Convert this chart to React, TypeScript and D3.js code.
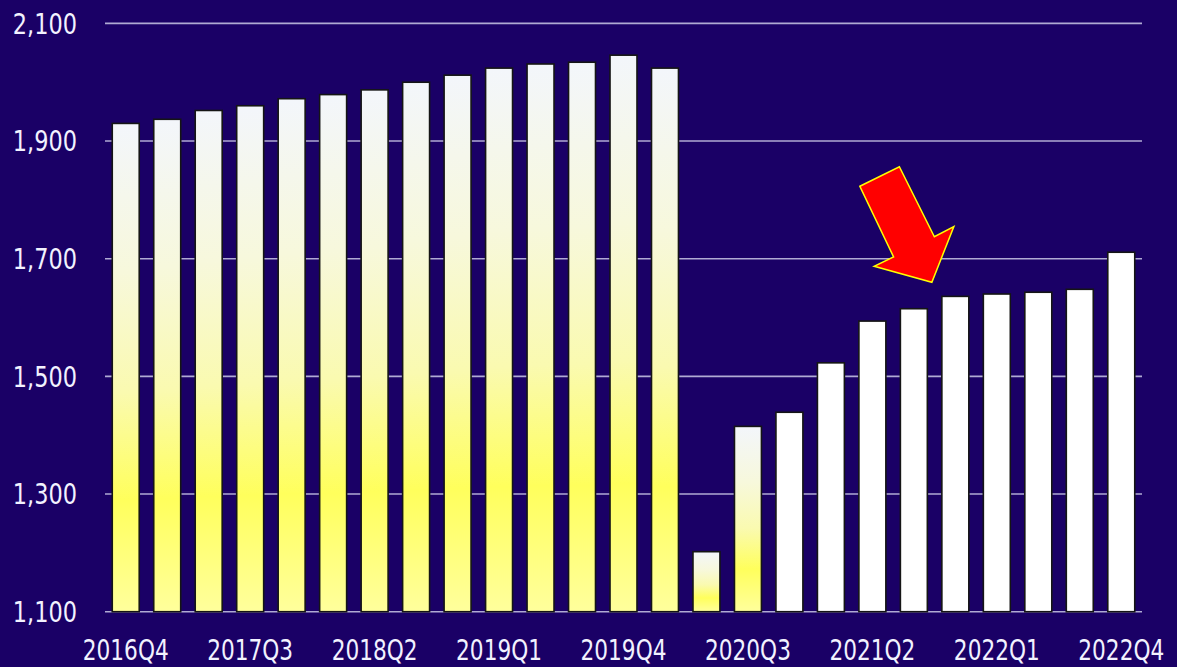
import React from "react";
import * as d3 from "d3";

const categories = [
  "2016Q4", "2017Q1", "2017Q2", "2017Q3", "2017Q4",
  "2018Q1", "2018Q2", "2018Q3", "2018Q4",
  "2019Q1", "2019Q2", "2019Q3", "2019Q4",
  "2020Q1", "2020Q2", "2020Q3", "2020Q4",
  "2021Q1", "2021Q2", "2021Q3", "2021Q4",
  "2022Q1", "2022Q2", "2022Q3", "2022Q4",
];
const values = [
  1930, 1937, 1952, 1960, 1972,
  1979, 1987, 2000, 2012,
  2024, 2031, 2034, 2046,
  2024, 1202, 1415, 1439,
  1523, 1594, 1615, 1636,
  1640, 1643, 1648, 1711,
];
// bars drawn with the yellow gradient (actual) vs white (forecast)
const gradientUntil = "2020Q3";
const yTicks = [1100, 1300, 1500, 1700, 1900, 2100];
const xTickLabels = ["2016Q4", "2017Q3", "2018Q2", "2019Q1", "2019Q4", "2020Q3", "2021Q2", "2022Q1", "2022Q4"];
const arrowTarget = { category: "2021Q4", value: 1660 };

const W = 1177;
const H = 667;
const BG = "#1a0066";
const FONT = "'Liberation Sans Narrow', 'DejaVu Sans Condensed', 'Arial Narrow', sans-serif";
const SX = 0.86;

export default function App() {
  const x = d3.scaleBand<string>().domain(categories).range([105, 1142]).paddingInner(0.35).paddingOuter(0.175);
  const y = d3.scaleLinear().domain([1100, 2100]).range([611.7, 23.4]);
  const gradIdx = categories.indexOf(gradientUntil);

  const tipX = (x(arrowTarget.category) as number) - 10;
  const tipY = y(arrowTarget.value);
  const arrowOffsets: [number, number][] = [
    [-72, -96], [-32.5, -115.5], [2.5, -45.5], [22, -55.7], [0, 0], [-57.7, -16], [-38.3, -25.4],
  ];
  const arrowPts = arrowOffsets.map(([dx, dy]) => `${tipX + dx},${tipY + dy}`).join(" ");

  return (
    <svg width={W} height={H} style={{ position: "absolute", left: 0, top: 0, display: "block" }}>
      <defs>
        <linearGradient id="yellowGrad" x1="0" y1="0" x2="0" y2="1">
          <stop offset="0" stopColor="#f3f6fb" />
          <stop offset="0.3" stopColor="#f7f8dc" />
          <stop offset="0.55" stopColor="#fafab0" />
          <stop offset="0.77" stopColor="#ffff5c" />
          <stop offset="1" stopColor="#ffff9c" />
        </linearGradient>
      </defs>
      <rect x={0} y={0} width={W} height={H} fill={BG} />
      {yTicks.map((t) => (
        <g key={t}>
          <line x1={105} x2={1142} y1={y(t)} y2={y(t)} stroke="#b0aad4" strokeWidth={1.6} />
          <text
            transform={`translate(77,${y(t)}) scale(${SX},1)`}
            textAnchor="end"
            dominantBaseline="central"
            fill="#f2f2ff"
            fontFamily={FONT}
            fontSize={29}
          >
            {d3.format(",")(t)}
          </text>
        </g>
      ))}
      {categories.map((c, i) => {
        const x0 = x(c) as number;
        const v = values[i];
        return (
          <rect
            key={c}
            x={x0}
            y={y(v)}
            width={x.bandwidth()}
            height={y(1100) - y(v)}
            fill={i <= gradIdx ? "url(#yellowGrad)" : "#ffffff"}
            stroke="#151515"
            strokeWidth={1.6}
          />
        );
      })}
      {xTickLabels.map((c) => (
        <text
          key={c}
          transform={`translate(${(x(c) as number) + x.bandwidth() / 2},660) scale(${SX},1)`}
          textAnchor="middle"
          fill="#f2f2ff"
          fontFamily={FONT}
          fontSize={28}
        >
          {c}
        </text>
      ))}
      <polygon points={arrowPts} fill="#ff0000" stroke="#ffff00" strokeWidth={1.5} strokeLinejoin="miter" />
    </svg>
  );
}
